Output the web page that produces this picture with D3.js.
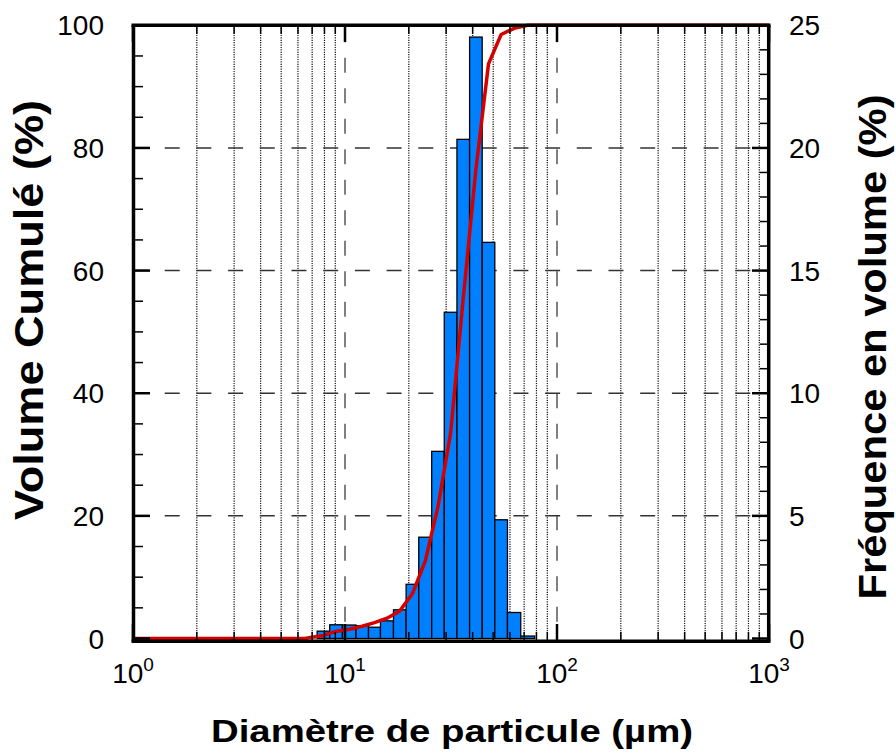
<!DOCTYPE html>
<html>
<head>
<meta charset="utf-8">
<script src="https://cdn.jsdelivr.net/npm/d3@7"></script>
<style>
  body { margin: 0; background: #fff; }
  text { font-family: "Liberation Sans", Arial, Helvetica, sans-serif; }
</style>
</head>
<body>
<div id="chart"></div>
<script>
// histogram bins (µm) and volume frequency (%)
var binEdges = [7.39, 8.47, 9.72, 11.27, 12.91, 14.70, 16.93, 19.42, 22.28, 25.64,
                29.39, 33.73, 38.70, 44.37, 50.89, 58.39, 67.44, 78.48];
var freqVol = [0.30, 0.56, 0.55, 0.52, 0.46, 0.72, 1.17, 2.21, 4.13, 7.63,
               13.30, 20.35, 24.52, 16.15, 4.84, 1.06, 0.10];
// cumulative volume curve
var cumSize = [1, 6.44, 7.91, 9.07, 10.47, 12.06, 13.78, 15.78, 18.13, 20.80, 23.90,
               27.45, 31.49, 36.13, 41.44, 47.52, 54.51, 62.75, 72.75, 1000];
var cumVol = [0, 0, 0.5, 1.15, 1.5, 2.0, 2.6, 3.3, 4.5, 7.3, 12.6,
              21.5, 33.5, 55.5, 76.5, 93.7, 98.5, 99.5, 100, 100];
// ticks
var xMajor = [1, 10, 100, 1000];
var xMinor = [2, 3, 4, 5, 6, 7, 8, 9, 20, 30, 40, 50, 60, 70, 80, 90, 200, 300, 400, 500, 600, 700, 800, 900];
var leftMajor = [0, 20, 40, 60, 80, 100];
var leftMinor = [5, 10, 15, 25, 30, 35, 45, 50, 55, 65, 70, 75, 85, 90, 95];
var rightMajor = [0, 5, 10, 15, 20, 25];
var rightMinor = [1, 2, 3, 4, 6, 7, 8, 9, 11, 12, 13, 14, 16, 17, 18, 19, 21, 22, 23, 24];
var gridY = [20, 40, 60, 80];

function init() {
    var w = 896, h = 753;
    var left = 133, right = 769, top = 25.3, bottom = 638.5;

    var svg = d3.select("#chart").append("svg")
        .attr("width", w).attr("height", h);

    var x = d3.scaleLog().domain([1, 1000]).range([left, right]);
    var yL = d3.scaleLinear().domain([0, 100]).range([bottom, top]);
    var yR = d3.scaleLinear().domain([0, 25]).range([bottom, top]);

    //grid
    svg.append("g").selectAll("line").data(xMinor).enter().append("line")
        .attr("x1", d => x(d)).attr("x2", d => x(d))
        .attr("y1", top).attr("y2", bottom)
        .attr("stroke", "#111").attr("stroke-width", 1.2)
        .attr("stroke-dasharray", "1.2,1.2");
    svg.append("g").selectAll("line").data([10, 100]).enter().append("line")
        .attr("x1", d => x(d)).attr("x2", d => x(d))
        .attr("y1", top + 2).attr("y2", bottom)
        .attr("stroke", "#808080").attr("stroke-width", 2)
        .attr("stroke-dasharray", "15,15.5");
    svg.append("g").selectAll("line").data(gridY).enter().append("line")
        .attr("x1", left).attr("x2", right)
        .attr("y1", d => yL(d)).attr("y2", d => yL(d))
        .attr("stroke", "#333").attr("stroke-width", 1.5)
        .attr("stroke-dasharray", "15,16.7");

    //bars
    svg.append("g").selectAll("rect").data(freqVol).enter().append("rect")
        .attr("x", (d, i) => x(binEdges[i]))
        .attr("width", (d, i) => x(binEdges[i + 1]) - x(binEdges[i]))
        .attr("y", d => yR(d))
        .attr("height", d => bottom - yR(d))
        .attr("fill", "#0080ff")
        .attr("stroke", "#000").attr("stroke-width", 1.3);

    //cumulative curve
    var line = d3.line()
        .x((d, i) => x(cumSize[i]))
        .y(d => yL(d));
    svg.append("path").datum(cumVol)
        .attr("d", line)
        .attr("fill", "none")
        .attr("stroke", "#d40000").attr("stroke-width", 3.5)
        .attr("stroke-linejoin", "round");

    //ticks
    var tk = svg.append("g").attr("stroke", "#000");
    xMajor.forEach(function(d) {
        tk.append("line").attr("x1", x(d)).attr("x2", x(d)).attr("y1", 641).attr("y2", 624).attr("stroke-width", 2.5);
        tk.append("line").attr("x1", x(d)).attr("x2", x(d)).attr("y1", 25).attr("y2", 42).attr("stroke-width", 2.5);
    });
    xMinor.forEach(function(d) {
        tk.append("line").attr("x1", x(d)).attr("x2", x(d)).attr("y1", 641).attr("y2", 632).attr("stroke-width", 1.5);
        tk.append("line").attr("x1", x(d)).attr("x2", x(d)).attr("y1", 25).attr("y2", 34).attr("stroke-width", 1.5);
    });
    leftMajor.forEach(function(d) {
        tk.append("line").attr("x1", left).attr("x2", left + 17).attr("y1", yL(d)).attr("y2", yL(d)).attr("stroke-width", 2.5);
    });
    leftMinor.forEach(function(d) {
        tk.append("line").attr("x1", left).attr("x2", left + 10).attr("y1", yL(d)).attr("y2", yL(d)).attr("stroke-width", 1.5);
    });
    rightMajor.forEach(function(d) {
        tk.append("line").attr("x1", right).attr("x2", right - 17).attr("y1", yR(d)).attr("y2", yR(d)).attr("stroke-width", 2.5);
    });
    rightMinor.forEach(function(d) {
        tk.append("line").attr("x1", right).attr("x2", right - 9).attr("y1", yR(d)).attr("y2", yR(d)).attr("stroke-width", 1.5);
    });

    //frame
    var fr = svg.append("g").attr("stroke", "#000").attr("stroke-width", 3.5);
    fr.append("line").attr("x1", left - 1.5).attr("x2", right + 1.5).attr("y1", 25.2).attr("y2", 25.2);
    fr.append("line").attr("x1", left - 1.5).attr("x2", right + 1.5).attr("y1", 641.3).attr("y2", 641.3);
    fr.append("line").attr("x1", left + 0.5).attr("x2", left + 0.5).attr("y1", 25.2).attr("y2", 641.3);
    fr.append("line").attr("x1", right - 0.3).attr("x2", right - 0.3).attr("y1", 25.2).attr("y2", 641.3);

    //tick labels
    svg.append("g").selectAll("text").data(leftMajor).enter().append("text")
        .attr("x", 104).attr("y", d => yL(d) + 10)
        .attr("text-anchor", "end").attr("font-size", 28)
        .text(d => d);
    svg.append("g").selectAll("text").data(rightMajor).enter().append("text")
        .attr("x", 789).attr("y", d => yR(d) + 10)
        .attr("text-anchor", "start").attr("font-size", 28)
        .text(d => d);
    var xl = svg.append("g").selectAll("text").data(xMajor).enter().append("text")
        .attr("x", d => x(d)).attr("y", 683)
        .attr("text-anchor", "middle").attr("font-size", 28);
    xl.append("tspan").text("10");
    xl.append("tspan").attr("font-size", 19).attr("dy", -12).text(d => Math.round(Math.log10(d)));

    //axis titles
    svg.append("text")
        .attr("x", 452).attr("y", 742)
        .attr("text-anchor", "middle").attr("font-size", 31).attr("font-weight", "bold")
        .attr("textLength", 482).attr("lengthAdjust", "spacingAndGlyphs")
        .text("Diamètre de particule (µm)");
    svg.append("text")
        .attr("transform", "translate(43,310) rotate(-90)")
        .attr("text-anchor", "middle").attr("font-size", 40).attr("font-weight", "bold")
        .attr("textLength", 420).attr("lengthAdjust", "spacingAndGlyphs")
        .text("Volume Cumulé (%)");
    svg.append("text")
        .attr("transform", "translate(886,347) rotate(-90)")
        .attr("text-anchor", "middle").attr("font-size", 39).attr("font-weight", "bold")
        .attr("textLength", 505).attr("lengthAdjust", "spacingAndGlyphs")
        .text("Fréquence en volume (%)");
}
window.onload = init;
</script>
</body>
</html>
